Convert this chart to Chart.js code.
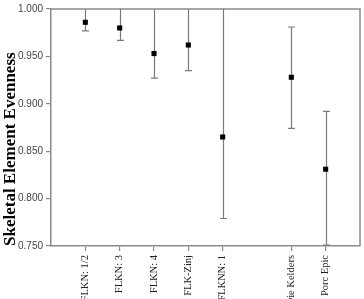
<!DOCTYPE html>
<html>
<head>
<meta charset="utf-8">
<script src="https://cdn.jsdelivr.net/npm/chart.js@4/dist/chart.umd.min.js"></script>
<style>
  html, body { margin: 0; padding: 0; background: #fff; }
</style>
</head>
<body>
<canvas id="evenChart" width="364" height="299"></canvas>
<script>
// site labels and their slot on the x axis (slot 6 left empty as in the original)
const sites = ['FLKN: 1/2', 'FLKN: 3', 'FLKN: 4', 'FLK-Zinj', 'FLKNN: 1', 'Die Kelders', 'Porc Epic'];
const slots = [1, 2, 3, 4, 5, 7, 8];
const evenness = [0.986, 0.980, 0.953, 0.962, 0.865, 0.928, 0.831];
const errLow = [0.977, 0.967, 0.927, 0.935, 0.779, 0.874, 0.751];
const errHigh = [1.02, 1.02, 1.02, 1.02, 1.02, 0.981, 0.892];
const yTicks = [0.750, 0.800, 0.850, 0.900, 0.950, 1.000];

const axisGrey = '#8a8a8a';

// error bars drawn through the scales, under the markers
const errorBars = {
  id: 'errorBars',
  beforeDatasetsDraw(chart) {
    const { ctx, chartArea, scales } = chart;
    const x = scales.x, y = scales.y;
    ctx.save();
    ctx.strokeStyle = '#7a7a7a';
    ctx.lineWidth = 1.2;
    slots.forEach((s, i) => {
      const px = Math.round(x.getPixelForValue(s)) + 0.5;
      const yHi = y.getPixelForValue(errHigh[i]);
      const yLo = y.getPixelForValue(errLow[i]);
      const top = Math.max(yHi, chartArea.top);
      const bot = Math.min(yLo, chartArea.bottom);
      ctx.beginPath();
      ctx.moveTo(px, top);
      ctx.lineTo(px, bot);
      if (yHi >= chartArea.top) { ctx.moveTo(px - 3.5, yHi); ctx.lineTo(px + 3.5, yHi); }
      if (yLo <= chartArea.bottom) { ctx.moveTo(px - 3.5, yLo); ctx.lineTo(px + 3.5, yLo); }
      ctx.stroke();
    });
    ctx.restore();
  },
  afterDraw(chart) {
    // top and right edges of the frame
    const { ctx, chartArea } = chart;
    ctx.save();
    ctx.strokeStyle = axisGrey;
    ctx.lineWidth = 1.5;
    ctx.beginPath();
    ctx.moveTo(chartArea.left, chartArea.top);
    ctx.lineTo(chartArea.right, chartArea.top);
    ctx.lineTo(chartArea.right, chartArea.bottom);
    ctx.stroke();
    ctx.restore();
  }
};

new Chart(document.getElementById('evenChart'), {
  type: 'scatter',
  data: {
    datasets: [{
      label: 'Evenness',
      data: slots.map((s, i) => ({ x: s, y: evenness[i] })),
      pointStyle: 'rect',
      pointRadius: 3.6,
      backgroundColor: '#000',
      borderColor: '#000',
      borderWidth: 0
    }]
  },
  options: {
    responsive: false,
    animation: false,
    maintainAspectRatio: false,
    layout: { padding: { top: 5, right: 3, left: 0, bottom: 0 } },
    plugins: { legend: { display: false }, tooltip: { enabled: false } },
    scales: {
      x: {
        type: 'linear',
        min: 0,
        max: 9,
        afterBuildTicks: (scale) => { scale.ticks = slots.map(v => ({ value: v })); },
        afterFit: (scale) => { scale.height = 53; },
        grid: { drawOnChartArea: false, tickLength: 5, color: axisGrey, lineWidth: 1.2 },
        border: { color: axisGrey, width: 1.5 },
        ticks: {
          autoSkip: false,
          minRotation: 90,
          maxRotation: 90,
          padding: 4,
          color: '#222',
          font: { family: 'Liberation Serif', size: 10.5 },
          callback: (v) => { const i = slots.indexOf(v); return i >= 0 ? sites[i] : ''; }
        }
      },
      y: {
        min: 0.75,
        max: 1.0,
        afterBuildTicks: (scale) => { scale.ticks = yTicks.map(v => ({ value: v })); },
        afterFit: (scale) => { scale.width = 51; },
        grid: { drawOnChartArea: false, tickLength: 5, color: axisGrey, lineWidth: 1.2 },
        border: { color: axisGrey, width: 1.5 },
        ticks: {
          padding: 3,
          color: '#444',
          font: { family: 'Liberation Sans', size: 10 },
          callback: (v) => v.toFixed(3)
        },
        title: {
          display: true,
          align: 'start',
          text: 'Skeletal Element Evenness',
          color: '#000',
          font: { family: 'Liberation Serif', size: 17, weight: 'bold' },
          padding: { top: 0, bottom: 0 }
        }
      }
    }
  },
  plugins: [errorBars]
});
</script>
</body>
</html>
